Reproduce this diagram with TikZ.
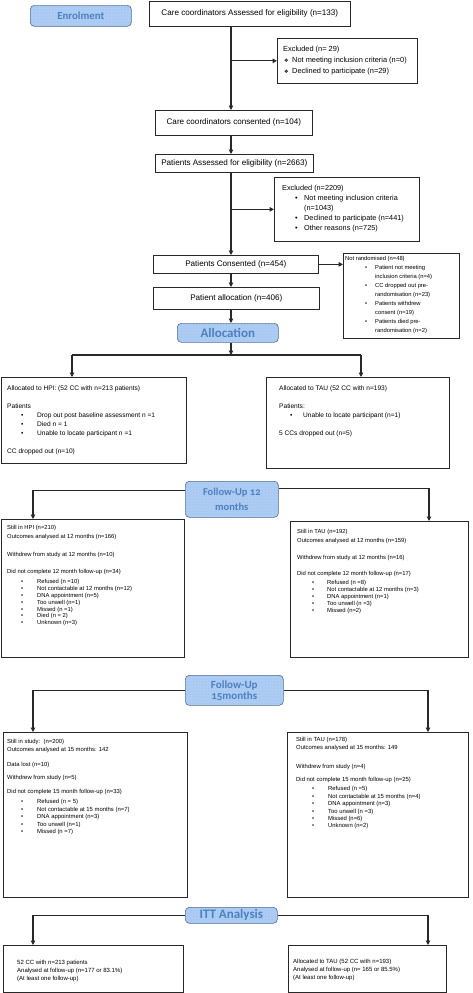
\documentclass[tikz,border=0pt]{standalone}
\usepackage{fontspec}
\setmainfont{Liberation Sans}
\newfontfamily\lblfont[Numbers=OldStyle]{Carlito}
\newfontfamily\dejavu{DejaVu Sans}
\usetikzlibrary{arrows.meta,patterns,calc}
\definecolor{lblfill}{RGB}{168,202,242}
\definecolor{lbldraw}{RGB}{80,105,150}
\definecolor{lbltext}{RGB}{78,128,192}
\definecolor{linec}{RGB}{40,40,40}
\newcommand\fsz[2]{\fontsize{#1}{#2}\selectfont}
\newcommand\bu[2]{\hspace*{#1pt}\makebox[#2pt][l]{\textbullet}}
\newcommand\ind[1]{\hspace*{#1pt}}
\newcommand\dia{\makebox[8pt][l]{\dejavu\fsz{5}{5}❖}}
\begin{document}
\begin{tikzpicture}[x=1pt,y=-1pt,
  bx/.style={draw=linec, line width=0.7pt, inner sep=0pt, anchor=north west},
  lbl/.style={draw=lbldraw, line width=0.6pt, fill=lblfill, rounded corners=4pt, inner sep=0pt, anchor=north west, text=lbltext, align=center,
    postaction={pattern=dots, pattern color=white!45!lblfill}},
  tx/.style={anchor=north west, inner sep=0pt, align=left},
  ln/.style={draw=linec, line width=1.1pt},
  arr/.style={ln, -{Triangle[length=4.5pt,width=4.5pt]}},
]
\useasboundingbox (0,0) rectangle (472,993);

% ---- labels
\node[lbl, minimum width=101pt, minimum height=21pt, font=\lblfont\bfseries\fsz{10.8}{12}] (enrol) at (30,5) {Enrolment};
\node[lbl, minimum width=101pt, minimum height=19pt, font=\lblfont\bfseries\fsz{13}{13}] (alloc) at (177,323) {Allocation};
\node[lbl, minimum width=93pt, minimum height=36pt, font=\lblfont\bfseries\fsz{10.5}{15}] (fu12) at (185,481) {Follow-Up 12\\months};
\node[lbl, minimum width=98pt, minimum height=30pt, font=\lblfont\bfseries\fsz{11}{11}] (fu15) at (185,675) {Follow-Up\\15months};
\node[lbl, minimum width=92pt, minimum height=16pt, font=\lblfont\bfseries\fsz{13}{13}] (itt) at (185,907) {ITT Analysis};

% ---- enrolment boxes
\node[bx, minimum width=201pt, minimum height=25pt, font=\fsz{8.1}{9.5}] (cca) at (149,1) {Care coordinators Assessed for eligibility (n=133)};
\node[bx, minimum width=140pt, minimum height=45pt] (exc1) at (277,38) {};
\node[tx, font=\fsz{7.4}{11}] (exc1t) at (283,45.5) {Excluded (n= 29)\\ \ind{1}\dia Not meeting inclusion criteria (n=0)\\ \ind{1}\dia Declined to participate (n=29)};
\node[bx, minimum width=157pt, minimum height=25pt, font=\fsz{8.1}{9.5}] (cons) at (155,110) {Care coordinators consented (n=104)};
\node[bx, minimum width=158pt, minimum height=18pt, font=\fsz{8.1}{9.5}] (pae) at (155,154) {Patients Assessed for eligibility (n=2663)};
\node[bx, minimum width=145pt, minimum height=64pt] (exc2) at (274,177) {};
\node[tx, font=\fsz{7.3}{10}] (exc2t) at (282,184.9) {Excluded (n=2209)\\
\bu{13}{9}Not meeting inclusion criteria\\
\ind{22}(n=1043)\\
\bu{13}{9}Declined to participate (n=441)\\
\bu{13}{9}Other reasons (n=725)};
\node[bx, minimum width=165pt, minimum height=18pt, font=\fsz{8.1}{9.5}] (pcons) at (153,255) {Patients Consented (n=454)};
\node[bx, minimum width=116pt, minimum height=85pt] (notr) at (343,253) {};
\node[tx, font=\fsz{5.8}{8.9}] (notrt) at (345,256.5) {Not randomised (n=48)\\
\bu{20}{10}Patient not meeting\\
\ind{30}inclusion criteria (n=4)\\
\bu{20}{10}CC dropped out pre-\\
\ind{30}randomisation (n=23)\\
\bu{20}{10}Patients withdrew\\
\ind{30}consent (n=19)\\
\bu{20}{10}Patients died pre-\\
\ind{30}randomisation (n=2)};
\node[bx, minimum width=166pt, minimum height=22pt, font=\fsz{8.1}{9.5}] (palloc) at (153,287) {Patient allocation (n=406)};

% ---- allocation boxes
\node[bx, minimum width=185pt, minimum height=86pt] (hpi) at (1,377) {};
\node[tx, font=\fsz{6.6}{9}] (hpit) at (7,385.1) {Allocated to HPI: (52 CC with n=213 patients)\\[9pt]
Patients\\
\bu{14}{16}Drop out post baseline assessment n =1\\
\bu{14}{16}Died n = 1\\
\bu{14}{16}Unable to locate participant n =1\\[9pt]
CC dropped out (n=10)};
\node[bx, minimum width=183pt, minimum height=91pt] (tau) at (266,377) {};
\node[tx, font=\fsz{6.6}{9}] (taut) at (279,385.1) {Allocated to TAU (52 CC with n=193)\\[9pt]
Patients:\\
\bu{11}{13}Unable to locate participant (n=1)\\[9pt]
5 CCs dropped out (n=5)};

% ---- follow-up 12
\node[bx, minimum width=183pt, minimum height=138pt] (hpi12) at (1,519) {};
\node[tx, font=\fsz{5.85}{8.8}] (hpi12t) at (7,525.5) {Still in HPI (n=210)\\
Outcomes analysed at 12 months (n=166)\\[9.4pt]
Withdrew from study at 12 months (n=10)\\[8.2pt]
Did not complete 12 month follow-up (n=34)\\[1.2pt]
\bu{14}{16}Refused (n =10)\\[-2pt]
\bu{14}{16}Not contactable at 12 months (n=12)\\[-2pt]
\bu{14}{16}DNA appointment (n=5)\\[-2pt]
\bu{14}{16}Too unwell (n=1)\\[-2pt]
\bu{14}{16}Missed (n =1)\\[-2pt]
\bu{14}{16}Died (n = 2)\\[-2pt]
\bu{14}{16}Unknown (n=3)};
\node[bx, minimum width=178pt, minimum height=136pt] (tau12) at (290,521) {};
\node[tx, font=\fsz{5.85}{8.8}] (tau12t) at (297,529.5) {Still in TAU (n=192)\\
Outcomes analysed at 12 months (n=159)\\[8.4pt]
Withdrew from study at 12 months (n=16)\\[7.2pt]
Did not complete 12 month follow-up (n=17)\\[0.2pt]
\bu{15}{15}Refused (n =8)\\[-2pt]
\bu{15}{15}Not contactable at 12 months (n=3)\\[-2pt]
\bu{15}{15}DNA appointment (n=1)\\[-2pt]
\bu{15}{15}Too unwell (n =3)\\[-2pt]
\bu{15}{15}Missed (n=2)};

% ---- follow-up 15
\node[bx, minimum width=184pt, minimum height=165pt] (hpi15) at (3,732) {};
\node[tx, font=\fsz{5.9}{8}] (hpi15t) at (7,739.5) {Still in study:\ \ (n=200)\\
Outcomes analysed at 15 months: 142\\[7pt]
Data lost (n=10)\\[5pt]
Withdrew from study (n=5)\\[6pt]
Did not complete 15 month follow-up (n=33)\\[2pt]
\bu{14}{16}Refused (n = 5)\\[-0.6pt]
\bu{14}{16}Not contactable at 15 months (n=7)\\[-0.6pt]
\bu{14}{16}DNA appointment (n=3)\\[-0.6pt]
\bu{14}{16}Too unwell (n=1)\\[-0.6pt]
\bu{14}{16}Missed (n =7)};
\node[bx, minimum width=181pt, minimum height=165pt] (tau15) at (287,732) {};
\node[tx, font=\fsz{5.9}{8}] (tau15t) at (296,737.5) {Still in TAU (n=178)\\
Outcomes analysed at 15 months: 149\\[11pt]
Withdrew from study (n=4)\\[5pt]
Did not complete 15 month follow-up (n=25)\\[1pt]
\bu{16}{16}Refused (n =5)\\[-0.6pt]
\bu{16}{16}Not contactable at 15 months (n=4)\\[-0.6pt]
\bu{16}{16}DNA appointment (n=3)\\[-0.6pt]
\bu{16}{16}Too unwell (n =3)\\[-0.6pt]
\bu{16}{16}Missed (n=6)\\[-0.6pt]
\bu{16}{16}Unknown (n=2)};

% ---- ITT
\node[bx, minimum width=180pt, minimum height=46.5pt] (hpiF) at (3,945) {};
\node[tx, font=\fsz{6}{8}] (hpiFt) at (17,960.4) {52 CC with n=213 patients\\
Analysed at follow-up (n=177 or 83.1\%)\\
(At least one follow-up)};
\node[bx, minimum width=158pt, minimum height=46.5pt] (tauF) at (288,945) {};
\node[tx, font=\fsz{6}{7.8}] (tauFt) at (293,959.4) {Allocated to TAU (52 CC with n=193)\\
Analysed at follow-up (n= 165 or 85.5\%)\\
(At least one follow-up)};

% ---- connectors
\coordinate (cx) at (231,0);
\coordinate (j1) at (231,355);
\coordinate (jl) at (72,355);
\coordinate (jr) at (361,355);
\coordinate (l12) at (33,0);
\coordinate (r12) at (429,0);
\coordinate (r15) at (428,0);
\draw[arr] (cca.south -| cx) -- (cons.north -| cx);
\draw[arr] (cx |- exc1.west) -- (exc1.west);
\draw[arr] (cons.south -| cx) -- (pae.north -| cx);
\draw[arr] (pae.south -| cx) -- (pcons.north -| cx);
\draw[arr] (cx |- exc2.west) -- (exc2.west);
\draw[arr] (pcons.east) -- (pcons.east -| notr.west);
\draw[arr] (pcons.south -| cx) -- (palloc.north -| cx);
\draw[arr] (palloc.south -| cx) -- (alloc.north -| cx);
\draw[arr] (alloc.south -| cx) -- (j1);
\draw[ln] (jl) -- (jr);
\draw[arr] (jl) -- (hpi.north -| jl);
\draw[arr] (jr) -- (tau.north -| jr);
\draw[arr] ([yshift=9pt]fu12.west) -| (hpi12.north -| l12);
\draw[arr] ([yshift=11pt]fu12.east) -| (tau12.north -| r12);
\draw[arr] (fu15.west) -| (hpi15.north -| l12);
\draw[arr] (fu15.east) -| (tau15.north -| r15);
\draw[arr] (itt.west) -| (hpiF.north -| l12);
\draw[arr] (itt.east) -| (tauF.north -| r15);
\end{tikzpicture}
\end{document}
